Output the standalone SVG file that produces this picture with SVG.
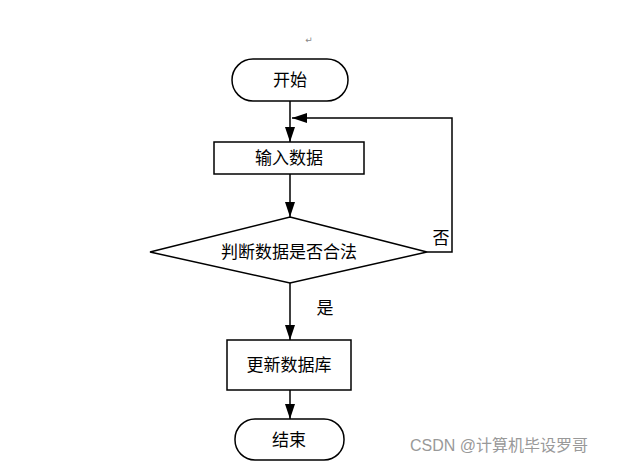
<svg xmlns="http://www.w3.org/2000/svg" width="635" height="466" viewBox="0 0 635 466">
<style>
.s{fill:#fff;stroke:#000;stroke-width:1.5}
.t{font-family:"Noto Sans CJK SC","Liberation Sans",sans-serif;font-size:17px;fill:#000;text-anchor:middle}
.c{fill:none;stroke:#000;stroke-width:1.5}
</style>
<defs>
<marker id="a" markerWidth="15" markerHeight="10" refX="15" refY="5" orient="auto" markerUnits="userSpaceOnUse" viewBox="0 0 15 10">
<path d="M0,0 L15,5 L0,10 Z" fill="#000"/>
</marker>
</defs>
<rect width="635" height="466" fill="#fff"/>
<text x="309" y="43" font-family="DejaVu Sans,sans-serif" font-size="9" fill="#888" text-anchor="middle">↵</text>
<g id="connectors">
<line class="c" x1="290" y1="101" x2="290" y2="142" marker-end="url(#a)"/>
<polyline class="c" points="427,252 452,252 452,118 292,118" marker-end="url(#a)"/>
<line class="c" x1="290" y1="174" x2="290" y2="217" marker-end="url(#a)"/>
<line class="c" x1="290" y1="283" x2="290" y2="340" marker-end="url(#a)"/>
<line class="c" x1="290" y1="390" x2="290" y2="419" marker-end="url(#a)"/>
<text class="t" x="441" y="244">否</text>
<text class="t" x="325" y="314">是</text>
</g>
<g id="start">
<rect class="s" x="232" y="59" width="116" height="42" rx="21"/>
<text class="t" x="290" y="86">开始</text>
</g>
<g id="input">
<rect class="s" x="214" y="142" width="150" height="32"/>
<text class="t" x="289" y="164">输入数据</text>
</g>
<g id="decision">
<polygon class="s" points="290,217 427,252 290,283 150,252"/>
<text class="t" x="289" y="258">判断数据是否合法</text>
</g>
<g id="update">
<rect class="s" x="227" y="340" width="124" height="50"/>
<text class="t" x="289" y="371">更新数据库</text>
</g>
<g id="end">
<rect class="s" x="235" y="419" width="109" height="41" rx="20"/>
<text class="t" x="289" y="446">结束</text>
</g>
<text x="410" y="451" font-family="Liberation Sans,Noto Sans CJK SC,sans-serif" font-size="16" fill="#999">CSDN @计算机毕设罗哥</text>
</svg>
